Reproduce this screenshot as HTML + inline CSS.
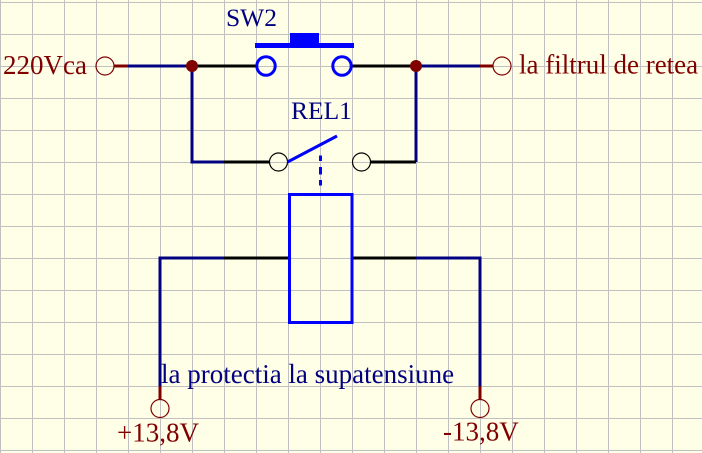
<!DOCTYPE html>
<html>
<head>
<meta charset="utf-8">
<style>
  html, body { margin: 0; padding: 0; }
  body { width: 702px; height: 453px; overflow: hidden; background: #ffffe8; }
  svg { display: block; }
  text { font-family: "Liberation Serif", "Times New Roman", serif; }
</style>
</head>
<body>
<svg width="702" height="453" viewBox="0 0 702 453" xmlns="http://www.w3.org/2000/svg">
  <rect x="0" y="0" width="702" height="453" fill="#ffffe8"/>
  <g stroke="#c0c0c0" stroke-width="1" shape-rendering="crispEdges">
    <line x1="0.5" y1="0" x2="0.5" y2="453"/>
    <line x1="32.5" y1="0" x2="32.5" y2="453"/>
    <line x1="64.5" y1="0" x2="64.5" y2="453"/>
    <line x1="96.5" y1="0" x2="96.5" y2="453"/>
    <line x1="128.5" y1="0" x2="128.5" y2="453"/>
    <line x1="160.5" y1="0" x2="160.5" y2="453"/>
    <line x1="192.5" y1="0" x2="192.5" y2="453"/>
    <line x1="224.5" y1="0" x2="224.5" y2="453"/>
    <line x1="256.5" y1="0" x2="256.5" y2="453"/>
    <line x1="288.5" y1="0" x2="288.5" y2="453"/>
    <line x1="320.5" y1="0" x2="320.5" y2="453"/>
    <line x1="352.5" y1="0" x2="352.5" y2="453"/>
    <line x1="384.5" y1="0" x2="384.5" y2="453"/>
    <line x1="416.5" y1="0" x2="416.5" y2="453"/>
    <line x1="448.5" y1="0" x2="448.5" y2="453"/>
    <line x1="480.5" y1="0" x2="480.5" y2="453"/>
    <line x1="512.5" y1="0" x2="512.5" y2="453"/>
    <line x1="544.5" y1="0" x2="544.5" y2="453"/>
    <line x1="576.5" y1="0" x2="576.5" y2="453"/>
    <line x1="608.5" y1="0" x2="608.5" y2="453"/>
    <line x1="640.5" y1="0" x2="640.5" y2="453"/>
    <line x1="672.5" y1="0" x2="672.5" y2="453"/>
    <line x1="0" y1="2.5" x2="702" y2="2.5"/>
    <line x1="0" y1="34.5" x2="702" y2="34.5"/>
    <line x1="0" y1="66.5" x2="702" y2="66.5"/>
    <line x1="0" y1="98.5" x2="702" y2="98.5"/>
    <line x1="0" y1="130.5" x2="702" y2="130.5"/>
    <line x1="0" y1="162.5" x2="702" y2="162.5"/>
    <line x1="0" y1="194.5" x2="702" y2="194.5"/>
    <line x1="0" y1="226.5" x2="702" y2="226.5"/>
    <line x1="0" y1="258.5" x2="702" y2="258.5"/>
    <line x1="0" y1="290.5" x2="702" y2="290.5"/>
    <line x1="0" y1="322.5" x2="702" y2="322.5"/>
    <line x1="0" y1="354.5" x2="702" y2="354.5"/>
    <line x1="0" y1="386.5" x2="702" y2="386.5"/>
    <line x1="0" y1="418.5" x2="702" y2="418.5"/>
    <line x1="0" y1="450.5" x2="702" y2="450.5"/>
  </g>

  <!-- top wires -->
  <g stroke-width="3" fill="none">
    <line x1="114" y1="66" x2="128" y2="66" stroke="#800000"/>
    <line x1="128" y1="66" x2="192" y2="66" stroke="#000080"/>
    <line x1="192" y1="66" x2="257" y2="66" stroke="#000000"/>
    <line x1="351" y1="66" x2="416" y2="66" stroke="#000000"/>
    <line x1="416" y1="66" x2="480" y2="66" stroke="#000080"/>
    <line x1="480" y1="66" x2="493" y2="66" stroke="#800000"/>
    <!-- vertical down to REL1 -->
    <polyline points="192,66 192,162 224,162" stroke="#000080"/>
    <line x1="224" y1="162" x2="270" y2="162" stroke="#000000"/>
    <polyline points="416,66 416,162" stroke="#000080"/>
    <line x1="370" y1="162" x2="416" y2="162" stroke="#000000"/>
    <!-- relay coil wiring -->
    <polyline points="160,387 160,258 224,258" stroke="#000080"/>
    <line x1="224" y1="258" x2="289" y2="258" stroke="#000000"/>
    <line x1="352" y1="258" x2="416" y2="258" stroke="#000000"/>
    <polyline points="416,258 480,258 480,387" stroke="#000080"/>
    <line x1="160" y1="386" x2="160" y2="400" stroke="#800000"/>
    <line x1="480" y1="386" x2="480" y2="400" stroke="#800000"/>
  </g>

  <!-- terminals -->
  <g stroke="#800000" stroke-width="1.2" fill="none">
    <circle cx="105" cy="66" r="9"/>
    <circle cx="502" cy="66" r="9"/>
    <circle cx="160" cy="408.5" r="9"/>
    <circle cx="480" cy="408.5" r="9"/>
  </g>
  <!-- junctions -->
  <circle cx="192" cy="66" r="6" fill="#800000"/>
  <circle cx="416" cy="66" r="6" fill="#800000"/>

  <!-- SW2 push button -->
  <rect x="255" y="43" width="99" height="5" fill="#0000ff"/>
  <rect x="290" y="33" width="29" height="11" fill="#0000ff"/>
  <circle cx="266" cy="66" r="9.2" stroke="#0000ff" stroke-width="3" fill="none"/>
  <circle cx="342" cy="66" r="9.2" stroke="#0000ff" stroke-width="3" fill="none"/>

  <!-- REL1 contact -->
  <circle cx="278.5" cy="162" r="9" stroke="#000000" stroke-width="1.2" fill="none"/>
  <circle cx="361.5" cy="162" r="9" stroke="#000000" stroke-width="1.2" fill="none"/>
  <line x1="287.5" y1="162" x2="337" y2="136" stroke="#0000ff" stroke-width="3"/>
  <g stroke="#0000ff" stroke-width="3">
    <line x1="320.5" y1="155.5" x2="320.5" y2="161"/>
    <line x1="320.5" y1="167" x2="320.5" y2="174.5"/>
    <line x1="320.5" y1="180" x2="320.5" y2="185.5"/>
  </g>
  <!-- relay coil -->
  <rect x="289.5" y="194.5" width="62.5" height="128" stroke="#0000ff" stroke-width="3" fill="none"/>

  <!-- labels -->
  <text x="3" y="74" font-size="27" fill="#800000">220Vca</text>
  <text x="519" y="73.5" font-size="27" fill="#800000">la filtrul de retea</text>
  <text x="226" y="26" font-size="25.5" fill="#000080">SW2</text>
  <text x="291" y="119" font-size="25.5" fill="#000080">REL1</text>
  <text x="161" y="383" font-size="27" fill="#000080">la protectia la supatensiune</text>
  <text x="117" y="441.5" font-size="27" fill="#800000">+13,8V</text>
  <text x="443" y="440.5" font-size="27" fill="#800000">-13,8V</text>
</svg>
</body>
</html>
